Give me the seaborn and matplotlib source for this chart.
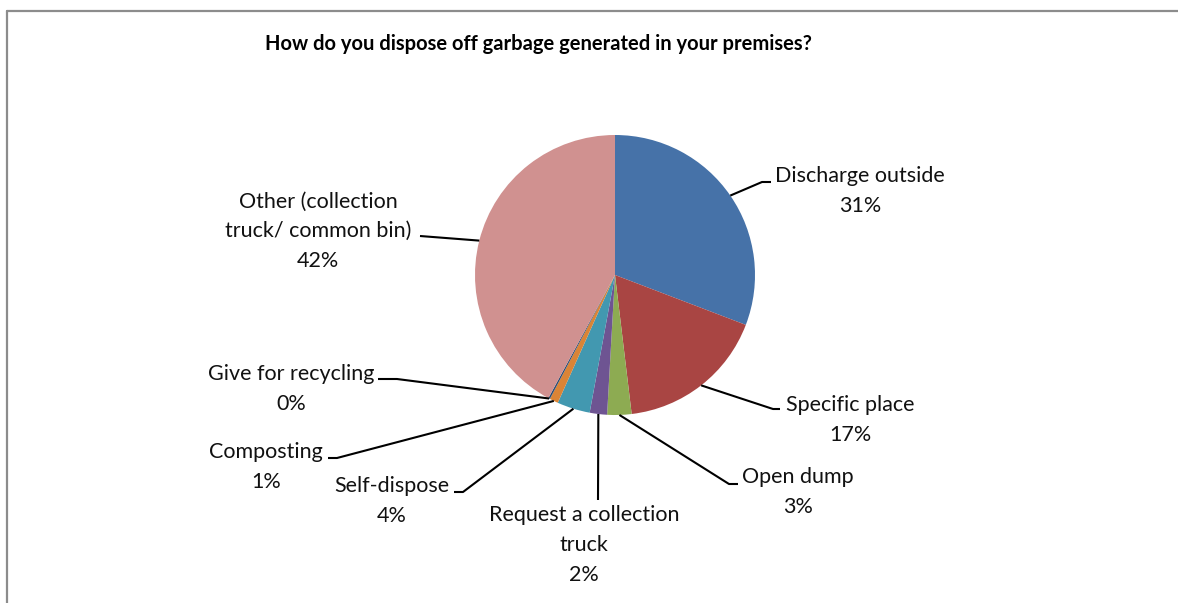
import numpy as np
import matplotlib
matplotlib.use("Agg")
import matplotlib.pyplot as plt
import seaborn as sns

# data
categories = ["Discharge outside", "Specific place", "Open dump",
              "Request a collection\ntruck", "Self-dispose", "Composting",
              "Give for recycling", "Other (collection\ntruck/ common bin)"]
shares = [30.8, 17.3, 2.8, 2.0, 3.8, 1.0, 0.2, 42.1]
colors = ["#4672A8", "#A94543", "#8DAB52", "#6E5492",
          "#4298B0", "#DA8436", "#2C4D75", "#D09190"]

# label layout in pixel space (text block centre, elbow, line end)
label_pos = [(860, 191), (850, 420), (798, 492), (584, 545),
             (392, 501), (266, 467), (291, 389), (318, 231)]
elbows = [(762, 182), (773, 409), (729, 484), (598, 500),
          (463, 492), (337, 458), (397, 379), (420, 236)]
line_ends = [(771, 182), (780, 409), (738, 484), (598, 500),
             (454, 492), (328, 458), (378, 379), (420, 236)]

sns.set_style("white")
plt.rcParams['font.family'] = ['Lato', 'DejaVu Sans']

W, H = 1178, 603
fig = plt.figure(figsize=(W / 100, H / 100), dpi=100)
ax = fig.add_axes([0, 0, 1, 1])

cx, cy, r = 615, 275, 140
# y axis is inverted, so counterclock in data = clockwise on screen
wedges, _ = ax.pie(shares, colors=sns.color_palette(colors), startangle=-90,
                   counterclock=True, center=(cx, cy), radius=r,
                   wedgeprops=dict(edgecolor='none', linewidth=0),
                   frame=True)
ax.set_xlim(0, W)
ax.set_ylim(H, 0)   # pixel coords, y down
ax.set_aspect('equal')
ax.axis('off')

for w, cat, v, pos, el, end in zip(wedges, categories, shares, label_pos, elbows, line_ends):
    mid = np.deg2rad((w.theta1 + w.theta2) / 2)
    sx, sy = cx + r * np.cos(mid), cy + r * np.sin(mid)
    ax.plot([sx, el[0], end[0]], [sy, el[1], end[1]], color='black', lw=1.5,
            solid_capstyle='butt', zorder=3)
    ax.text(pos[0], pos[1], f"{cat}\n{v:.0f}%", ha='center', va='center',
            fontsize=15.5, linespacing=1.6, color='#111111')

ax.text(538, 44, "How do you dispose off garbage generated in your premises?",
        ha='center', va='center', fontsize=14.5, fontweight='bold', color='black')

# chart area border (top and left visible)
ax.plot([7, W], [11, 11], color='#8C8C8C', lw=1.6, clip_on=False)
ax.plot([7, 7], [11, H], color='#8C8C8C', lw=1.6, clip_on=False)

fig.savefig("out.png", dpi=100)
